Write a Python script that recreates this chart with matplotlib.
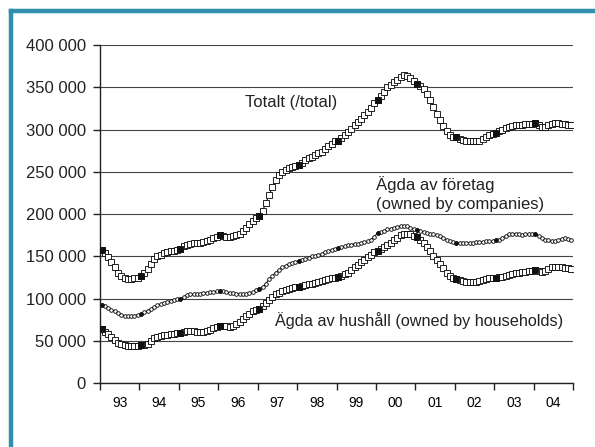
import matplotlib
matplotlib.use("Agg")
import matplotlib.pyplot as plt
from matplotlib.lines import Line2D
import numpy as np


plt.rcParams['font.family'] = ['Liberation Sans', 'DejaVu Sans']

START_YEAR = 1993
YEAR_LABELS = ["93", "94", "95", "96", "97", "98", "99", "00", "01", "02", "03", "04"]

# monthly values, Jan 1993 - Dec 2004 (one row per year)
totalt = [
    158000, 154000, 149000, 143000, 137000, 131000, 127000, 124000, 123000, 123000, 124000, 125000,
    127000, 130000, 135000, 141000, 147000, 150000, 152000, 154000, 155000, 156000, 157000, 158000,
    159000, 162000, 164000, 165000, 166000, 166000, 166000, 167000, 168000, 170000, 172000, 173000,
    175000, 174000, 173000, 173000, 174000, 175000, 177000, 180000, 184000, 188000, 192000, 196000,
    198000, 204000, 213000, 223000, 232000, 240000, 246000, 250000, 252000, 254000, 256000, 257000,
    258000, 261000, 264000, 266000, 268000, 270000, 272000, 274000, 277000, 280000, 283000, 286000,
    287000, 290000, 293000, 297000, 301000, 305000, 309000, 313000, 317000, 321000, 326000, 331000,
    335000, 340000, 345000, 350000, 353000, 356000, 359000, 362000, 364000, 363000, 361000, 358000,
    354000, 352000, 348000, 342000, 335000, 327000, 319000, 311000, 304000, 298000, 294000, 291000,
    291000, 289000, 288000, 287000, 286000, 286000, 286000, 287000, 289000, 291000, 293000, 295000,
    296000, 298000, 300000, 302000, 303000, 304000, 305000, 306000, 306000, 307000, 307000, 307000,
    308000, 305000, 303000, 303000, 305000, 307000, 308000, 308000, 307000, 307000, 306000, 305000,
]

foretag = [
    93000, 91000, 89000, 87000, 85000, 83000, 81000, 80000, 79000, 79000, 80000, 81000,
    82000, 84000, 86000, 88000, 90000, 92000, 94000, 95000, 96000, 97000, 98000, 100000,
    100000, 102000, 104000, 105000, 105000, 106000, 106000, 107000, 107000, 108000, 108000, 109000,
    109000, 109000, 108000, 107000, 107000, 106000, 106000, 106000, 106000, 107000, 108000, 110000,
    111000, 114000, 118000, 123000, 127000, 131000, 134000, 137000, 139000, 141000, 142000, 143000,
    145000, 146000, 147000, 148000, 150000, 151000, 152000, 153000, 155000, 156000, 158000, 159000,
    160000, 161000, 162000, 163000, 164000, 165000, 165000, 166000, 167000, 168000, 170000, 173000,
    178000, 179000, 180000, 182000, 183000, 184000, 185000, 186000, 186000, 186000, 184000, 182000,
    181000, 180000, 179000, 178000, 177000, 176000, 175000, 174000, 172000, 170000, 168000, 167000,
    166000, 166000, 166000, 166000, 166000, 166000, 167000, 167000, 167000, 168000, 168000, 168000,
    169000, 170000, 172000, 174000, 176000, 177000, 177000, 176000, 175000, 176000, 177000, 177000,
    176000, 174000, 172000, 170000, 169000, 168000, 168000, 169000, 171000, 172000, 171000, 170000,
]

hushall = [
    64000, 61000, 58000, 55000, 51000, 48000, 46000, 45000, 44000, 44000, 44000, 44000,
    45000, 45000, 47000, 50000, 53000, 55000, 56000, 57000, 57000, 58000, 58000, 59000,
    59000, 61000, 62000, 62000, 62000, 61000, 61000, 61000, 62000, 63000, 65000, 67000,
    68000, 68000, 68000, 67000, 68000, 70000, 73000, 76000, 79000, 82000, 85000, 87000,
    88000, 91000, 95000, 99000, 102000, 105000, 107000, 109000, 110000, 111000, 113000, 114000,
    114000, 115000, 116000, 117000, 118000, 119000, 120000, 121000, 122000, 123000, 124000, 125000,
    126000, 127000, 129000, 131000, 134000, 137000, 140000, 143000, 146000, 149000, 152000, 155000,
    157000, 159000, 161000, 163000, 166000, 169000, 172000, 175000, 177000, 177000, 176000, 174000,
    173000, 170000, 166000, 161000, 156000, 151000, 146000, 141000, 136000, 131000, 127000, 124000,
    123000, 122000, 121000, 120000, 120000, 120000, 120000, 121000, 122000, 123000, 124000, 125000,
    125000, 126000, 126000, 127000, 128000, 129000, 130000, 131000, 132000, 132000, 133000, 133000,
    134000, 133000, 132000, 133000, 135000, 137000, 138000, 138000, 137000, 136000, 136000, 135000,
]


def drawSeries(ax, x, y, marker, size):
    # open markers for every month, filled ones for each January
    ax.plot(x, y, color='black', lw=0.7, marker=marker, markersize=size,
            markerfacecolor='white', markeredgecolor='black', markeredgewidth=0.6, zorder=3)
    ax.plot(x, y, linestyle='none', marker=marker, markersize=size,
            markerfacecolor='#111111', markeredgecolor='#111111', markeredgewidth=0.6,
            markevery=12, zorder=4)


def thousands(v, pos):
    return '{:,.0f}'.format(v).replace(',', ' ')


fig = plt.figure(figsize=(5.95, 4.47), dpi=100)
fig.patch.set_facecolor('white')

# blue frame, top and left edges only show
frame_col = '#2e8fae'
fig.add_artist(Line2D([10.5 / 595, 1.0], [1 - 10.5 / 447, 1 - 10.5 / 447], color=frame_col, lw=3.2))
fig.add_artist(Line2D([10.5 / 595, 10.5 / 595], [0.0, 1 - 10.5 / 447], color=frame_col, lw=3.2))

ax = fig.add_axes([100 / 595, 1 - 383.3 / 447, 473 / 595, 338.3 / 447])

n = len(totalt)
x = START_YEAR + (np.arange(n) + 0.5) / 12

drawSeries(ax, x, totalt, 's', 3.8)
drawSeries(ax, x, hushall, 's', 3.8)
drawSeries(ax, x, foretag, 'o', 2.6)

ax.set_xlim(START_YEAR, START_YEAR + len(YEAR_LABELS))
ax.set_ylim(0, 400000)
ax.set_yticks(np.arange(0, 400001, 50000))
ax.yaxis.set_major_formatter(plt.FuncFormatter(thousands))
ax.yaxis.grid(True, color='#444444', lw=0.8)
ax.set_axisbelow(True)

years = np.arange(START_YEAR, START_YEAR + len(YEAR_LABELS) + 1)
ax.set_xticks(years)
ax.set_xticklabels([])
ax.set_xticks(years[:-1] + 0.5, minor=True)
ax.set_xticklabels(YEAR_LABELS, minor=True)
ax.tick_params(axis='x', which='minor', length=0, pad=9)
ax.tick_params(axis='y', pad=5)
ax.tick_params(axis='both', which='major', length=5, width=1.0, color='#222222')
ax.tick_params(axis='both', labelsize=12, labelcolor='#222222')

for side in ['top', 'right']:
    ax.spines[side].set_visible(False)
for side in ['left', 'bottom']:
    ax.spines[side].set_color('#222222')
    ax.spines[side].set_linewidth(1.0)

ax.text(1996.67, 332000, 'Totalt (/total)', fontsize=12, color='#222222', va='center')
ax.text(2000.0, 224000, 'Ägda av företag\n(owned by companies)', fontsize=12,
        color='#222222', va='center', linespacing=1.3)
ax.text(1997.45, 74000, 'Ägda av hushåll (owned by households)', fontsize=11.7,
        color='#222222', va='center')

fig.savefig('out.png', dpi=100)
